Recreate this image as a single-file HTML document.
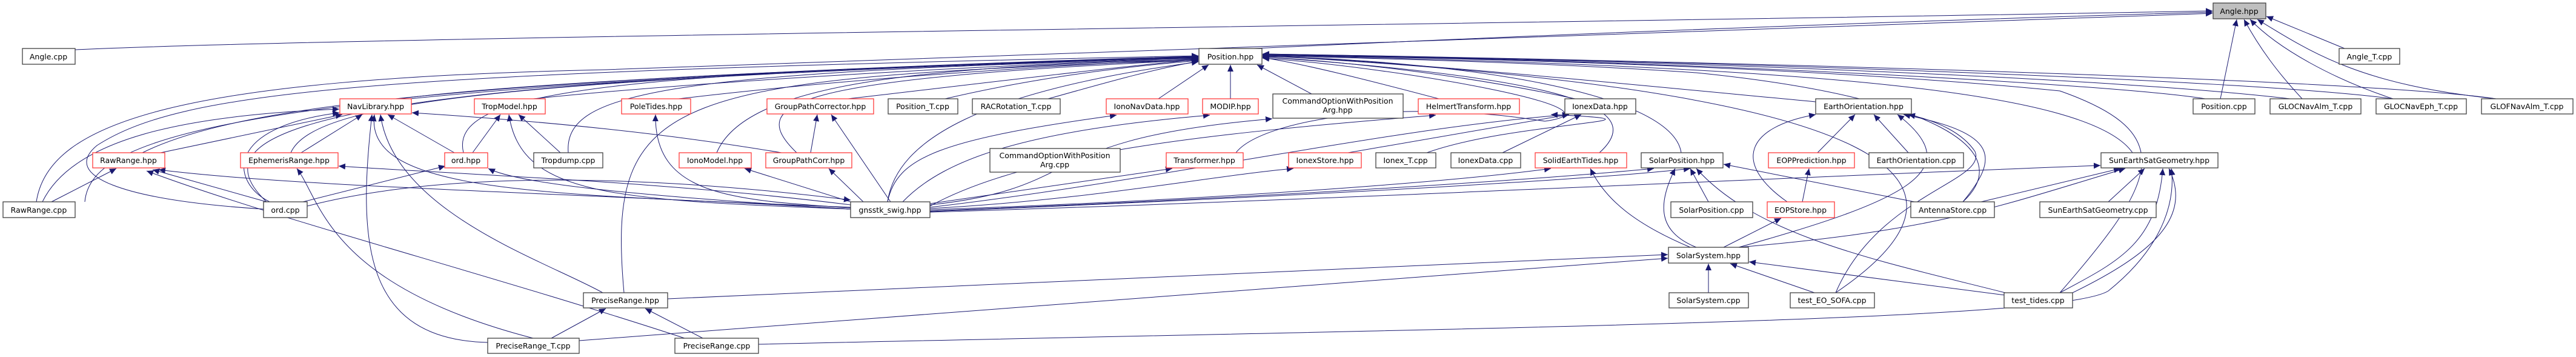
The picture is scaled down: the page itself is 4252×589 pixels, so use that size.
<!DOCTYPE html>
<html><head><meta charset="utf-8">
<style>
html,body{margin:0;padding:0;background:#fff;}
svg{display:block;}
text{font-family:"DejaVu Sans","Liberation Sans",sans-serif;font-size:12.5px;fill:#000;text-anchor:middle;}
.n{fill:#fff;stroke:#404040;stroke-width:1.3;}
.r{fill:#fff;stroke:#ff3a3a;stroke-width:1.3;}
.e{fill:none;stroke:#191970;stroke-width:1;}
</style></head><body>
<svg width="4252" height="589" viewBox="0 0 4252 589" xmlns="http://www.w3.org/2000/svg">
<defs>
<marker id="a" markerUnits="userSpaceOnUse" markerWidth="12" markerHeight="10" refX="11" refY="5" orient="auto">
<path d="M0,0 L11,5 L0,10 z" fill="#191970"/>
</marker>
</defs>
<g class="e" marker-end="url(#a)">
<!-- to Angle.hpp -->
<path d="M124,82 C600,60 2500,40 3652,18"/>
<path d="M2070,80 C2700,50 3300,30 3652,20"/>
<path d="M60,333 C80,200 300,130 1000,115 C1800,90 3000,40 3652,22"/>
<path d="M3870,80 L3741,27"/>
<path d="M3665,163 L3692,32"/>
<path d="M3800,163 C3760,120 3730,80 3704,32"/>
<path d="M3950,163 C3850,130 3760,80 3714,32"/>
<path d="M4120,163 C3900,140 3820,90 3726,32"/>
<!-- to Position.hpp from left -->
<path d="M660,163 C900,130 1700,100 1978,93"/>
<path d="M235,252 C400,170 800,130 1978,93"/>
<path d="M480,252 C520,160 900,130 1978,94"/>
<path d="M140,333 C150,220 400,140 1978,94"/>
<path d="M440,333 C300,200 600,130 1978,95"/>
<path d="M765,252 C740,150 1000,120 1978,95"/>
<path d="M938,252 C930,150 1100,120 1978,96"/>
<path d="M880,163 C1200,130 1700,105 1978,96"/>
<path d="M1120,163 C1400,130 1700,110 1978,97"/>
<path d="M1400,163 C1600,140 1800,115 1978,98"/>
<path d="M1183,252 C1230,140 1500,110 1978,98"/>
<path d="M1315,252 C1230,170 1300,130 1978,99"/>
<path d="M1030,483 C1000,150 1100,130 1978,99"/>
<path d="M1560,163 C1700,130 1850,110 1978,100"/>
<path d="M1730,163 C1830,135 1900,115 1978,101"/>
<path d="M1465,333 C1480,230 1620,150 1978,102"/>
<path d="M1912,163 L1995,107"/>
<path d="M2031,163 L2031,107"/>
<!-- to Position.hpp from right -->
<path d="M2165,155 L2075,107"/>
<path d="M2375,163 C2250,130 2150,105 2084,95"/>
<path d="M2600,163 C2400,120 2200,100 2084,94"/>
<path d="M2640,252 C2720,180 2600,130 2084,94"/>
<path d="M2775,252 C2760,150 2400,100 2084,93"/>
<path d="M2997,168 C2700,140 2300,100 2084,92"/>
<path d="M2040,252 C2080,200 2300,160 2550,200 C2700,180 2300,110 2084,96"/>
<path d="M3520,252 C3450,150 3000,110 2084,91"/>
<path d="M3240,333 C3330,250 3200,160 2800,120 C2500,100 2200,95 2084,92"/>
<path d="M3030,483 C3300,300 3150,150 2084,92"/>
<path d="M3400,483 C3560,300 3600,220 3400,150 C3000,110 2400,95 2084,91"/>
<path d="M3640,163 C3500,140 2800,100 2084,90"/>
<path d="M3780,163 C3500,130 2800,100 2084,90"/>
<path d="M3950,163 C3700,130 2800,100 2084,89"/>
<path d="M4120,163 C3900,130 2800,100 2084,89"/>
<!-- to NavLibrary.hpp -->
<path d="M265,252 L565,189"/>
<path d="M497,252 L598,189"/>
<path d="M70,333 C120,230 300,190 560,180"/>
<path d="M445,333 C380,300 370,210 560,186"/>
<path d="M750,252 L640,189"/>
<path d="M1404,342 C900,320 600,320 618,189"/>
<path d="M995,483 C900,430 650,350 628,189"/>
<path d="M805,565 C600,560 590,400 614,189"/>
<path d="M1290,252 C1100,220 900,200 680,186"/>
<!-- to RawRange.hpp -->
<path d="M85,333 L192,278"/>
<path d="M440,333 L252,280"/>
<path d="M1404,345 C1000,320 500,310 262,280"/>
<path d="M1130,558 C800,450 450,360 242,282"/>
<path d="M435,345 C200,330 100,290 160,240 C300,150 600,120 1978,92"/>
<!-- EphemerisRange -->
<path d="M1404,338 C1100,300 800,290 559,274"/>
<path d="M880,558 C540,470 530,330 490,278"/>
<path d="M507,340 C700,290 1000,280 1404,330"/>
<!-- TropModel -->
<path d="M780,252 L826,189"/>
<path d="M925,252 L856,189"/>
<path d="M1404,345 C1000,330 860,320 840,189"/>
<!-- ord.hpp -->
<path d="M500,333 L735,274"/>
<path d="M1404,345 C1000,320 850,300 806,278"/>
<!-- PoleTides -->
<path d="M1404,343 C1200,330 1080,320 1082,189"/>
<!-- GroupPathCorrector -->
<path d="M1338,252 L1349,189"/>
<path d="M1470,333 L1372,189"/>
<!-- IonoModel -->
<path d="M1404,333 L1229,278"/>
<!-- GroupPathCorr -->
<path d="M1425,333 L1368,278"/>
<!-- gnsstk_swig to right-side nodes -->
<path d="M1465,333 C1480,260 1550,230 1843,190"/>
<path d="M1490,333 C1560,260 1700,215 1997,190"/>
<path d="M1535,336 L1935,278"/>
<path d="M1535,338 C1800,310 1700,230 2100,196"/>
<path d="M1535,340 C1700,250 2000,220 2370,190"/>
<path d="M1535,342 C1900,300 2300,210 2590,189"/>
<path d="M1535,344 C1800,330 2000,290 2135,278"/>
<path d="M1535,346 C2000,330 2400,300 2560,278"/>
<path d="M1535,348 C2000,330 2500,300 2730,278"/>
<path d="M1535,350 C2200,330 3000,290 3467,273"/>
<!-- IonexData.hpp -->
<path d="M2225,252 L2590,189"/>
<path d="M2355,252 C2500,200 2800,200 2560,189"/>
<path d="M2480,252 L2610,189"/>
<!-- SolidEarthTides / SolarPosition -->
<path d="M2790,408 C2700,370 2650,330 2625,278"/>
<path d="M2800,408 C2730,380 2740,330 2765,278"/>
<path d="M2820,333 L2790,278"/>
<path d="M3160,333 L2845,271"/>
<path d="M1535,349 C2000,330 2600,300 2790,278"/>
<!-- EarthOrientation.hpp -->
<path d="M2950,333 C2860,270 2880,210 2997,189"/>
<path d="M3000,252 L3062,189"/>
<path d="M3150,252 L3093,189"/>
<path d="M3240,333 C3300,260 3300,220 3142,189"/>
<path d="M3030,483 C3100,320 3280,300 3260,250 C3240,220 3200,200 3150,189"/>
<path d="M2870,408 C3150,330 3250,280 3132,189"/>
<!-- EOPPrediction / EOPStore -->
<path d="M2975,333 L2986,278"/>
<path d="M2845,408 L2940,360"/>
<!-- SolarSystem.hpp -->
<path d="M2820,483 L2820,435"/>
<path d="M2995,483 L2856,435"/>
<path d="M3310,487 L2887,432"/>
<path d="M1102,493 L2753,420"/>
<path d="M956,562 L2753,426"/>
<!-- SunEarthSatGeometry.hpp -->
<path d="M3270,333 L3500,278"/>
<path d="M2870,408 C3200,380 3300,340 3508,278"/>
<path d="M3480,333 L3540,278"/>
<path d="M3400,483 C3500,430 3560,400 3570,278"/>
<path d="M1252,568 C2500,540 3400,530 3480,480 C3580,400 3590,320 3584,278"/>
<path d="M3421,483 C3550,420 3620,360 3580,278"/>
<!-- test_tides -> SolarPosition.hpp -->
<path d="M3310,483 C3100,430 2900,390 2800,278"/>
<!-- PreciseRange.hpp -->
<path d="M910,558 L1000,509"/>
<path d="M1160,558 L1065,509"/>
</g>
<!-- Nodes -->
<rect class="n" x="3653" y="5" width="87" height="26" style="fill:#bfbfbf"/><text x="3696" y="23">Angle.hpp</text>
<rect class="n" x="37" y="80" width="87" height="26"/><text x="80" y="98">Angle.cpp</text>
<rect class="n" x="1979" y="80" width="104" height="26"/><text x="2031" y="98">Position.hpp</text>
<rect class="n" x="3861" y="80" width="100" height="26"/><text x="3911" y="98">Angle_T.cpp</text>

<rect class="r" x="561" y="163" width="118" height="25"/><text x="620" y="180">NavLibrary.hpp</text>
<rect class="r" x="783" y="163" width="117" height="25"/><text x="841" y="180">TropModel.hpp</text>
<rect class="r" x="1026" y="163" width="114" height="25"/><text x="1083" y="180">PoleTides.hpp</text>
<rect class="r" x="1266" y="163" width="176" height="25"/><text x="1354" y="180">GroupPathCorrector.hpp</text>
<rect class="n" x="1466" y="163" width="115" height="25"/><text x="1523" y="180">Position_T.cpp</text>
<rect class="n" x="1605" y="163" width="145" height="25"/><text x="1677" y="180">RACRotation_T.cpp</text>
<rect class="r" x="1826" y="163" width="135" height="25"/><text x="1893" y="180">IonoNavData.hpp</text>
<rect class="r" x="1985" y="163" width="92" height="25"/><text x="2031" y="180">MODIP.hpp</text>
<rect class="n" x="2101" y="155" width="215" height="40"/><text x="2208" y="171">CommandOptionWithPosition</text><text x="2208" y="186">Arg.hpp</text>
<rect class="r" x="2341" y="163" width="167" height="25"/><text x="2424" y="180">HelmertTransform.hpp</text>
<rect class="n" x="2583" y="163" width="117" height="25"/><text x="2641" y="180">IonexData.hpp</text>
<rect class="n" x="2997" y="163" width="158" height="25"/><text x="3076" y="180">EarthOrientation.hpp</text>
<rect class="n" x="3620" y="163" width="102" height="25"/><text x="3671" y="180">Position.cpp</text>
<rect class="n" x="3747" y="163" width="150" height="25"/><text x="3822" y="180">GLOCNavAlm_T.cpp</text>
<rect class="n" x="3922" y="163" width="149" height="25"/><text x="3996" y="180">GLOCNavEph_T.cpp</text>
<rect class="n" x="4096" y="163" width="151" height="25"/><text x="4171" y="180">GLOFNavAlm_T.cpp</text>

<rect class="r" x="153" y="252" width="119" height="25"/><text x="212" y="269">RawRange.hpp</text>
<rect class="r" x="397" y="252" width="161" height="25"/><text x="477" y="269">EphemerisRange.hpp</text>
<rect class="r" x="734" y="252" width="71" height="25"/><text x="769" y="269">ord.hpp</text>
<rect class="n" x="881" y="252" width="114" height="25"/><text x="938" y="269">Tropdump.cpp</text>
<rect class="r" x="1121" y="252" width="119" height="25"/><text x="1180" y="269">IonoModel.hpp</text>
<rect class="r" x="1264" y="252" width="142" height="25"/><text x="1335" y="269">GroupPathCorr.hpp</text>
<rect class="n" x="1634" y="245" width="215" height="39"/><text x="1741" y="261">CommandOptionWithPosition</text><text x="1741" y="276">Arg.cpp</text>
<rect class="r" x="1925" y="252" width="127" height="25"/><text x="1988" y="269">Transformer.hpp</text>
<rect class="r" x="2127" y="252" width="120" height="25"/><text x="2187" y="269">IonexStore.hpp</text>
<rect class="n" x="2271" y="252" width="99" height="25"/><text x="2320" y="269">Ionex_T.cpp</text>
<rect class="n" x="2395" y="252" width="115" height="25"/><text x="2452" y="269">IonexData.cpp</text>
<rect class="r" x="2534" y="252" width="151" height="25"/><text x="2609" y="269">SolidEarthTides.hpp</text>
<rect class="n" x="2709" y="252" width="135" height="25"/><text x="2776" y="269">SolarPosition.hpp</text>
<rect class="r" x="2919" y="252" width="142" height="25"/><text x="2990" y="269">EOPPrediction.hpp</text>
<rect class="n" x="3085" y="252" width="156" height="25"/><text x="3163" y="269">EarthOrientation.cpp</text>
<rect class="n" x="3468" y="252" width="193" height="25"/><text x="3564" y="269">SunEarthSatGeometry.hpp</text>

<rect class="n" x="5" y="333" width="119" height="26"/><text x="64" y="351">RawRange.cpp</text>
<rect class="n" x="435" y="333" width="72" height="26"/><text x="471" y="351">ord.cpp</text>
<rect class="n" x="1404" y="333" width="131" height="26"/><text x="1469" y="351">gnsstk_swig.hpp</text>
<rect class="n" x="2758" y="333" width="135" height="26"/><text x="2825" y="351">SolarPosition.cpp</text>
<rect class="r" x="2917" y="333" width="111" height="26"/><text x="2972" y="351">EOPStore.hpp</text>
<rect class="n" x="3154" y="333" width="138" height="26"/><text x="3223" y="351">AntennaStore.cpp</text>
<rect class="n" x="3367" y="333" width="192" height="26"/><text x="3463" y="351">SunEarthSatGeometry.cpp</text>

<rect class="n" x="2754" y="408" width="132" height="26"/><text x="2820" y="426">SolarSystem.hpp</text>

<rect class="n" x="963" y="483" width="139" height="25"/><text x="1032" y="500">PreciseRange.hpp</text>
<rect class="n" x="2755" y="483" width="131" height="25"/><text x="2820" y="500">SolarSystem.cpp</text>
<rect class="n" x="2955" y="483" width="139" height="25"/><text x="3024" y="500">test_EO_SOFA.cpp</text>
<rect class="n" x="3308" y="483" width="113" height="25"/><text x="3364" y="500">test_tides.cpp</text>

<rect class="n" x="805" y="558" width="151" height="25"/><text x="880" y="575">PreciseRange_T.cpp</text>
<rect class="n" x="1114" y="558" width="138" height="25"/><text x="1183" y="575">PreciseRange.cpp</text>
</svg>
</body></html>
